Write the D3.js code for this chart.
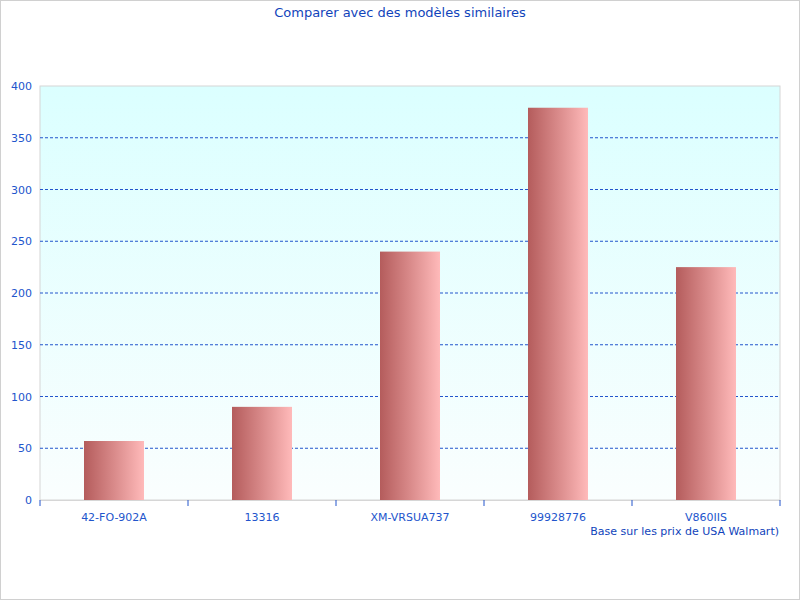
<!DOCTYPE html>
<html><head><meta charset="utf-8">
<script src="https://cdn.jsdelivr.net/npm/d3@7"></script>
<style>body{margin:0;background:#fff}svg{display:block;font-family:"DejaVu Sans",sans-serif}</style>
</head><body>
<script>
const categories = ["42-FO-902A","13316","XM-VRSUA737","99928776","V860IIS"];
const values = [57, 90, 240, 379, 225];
const yTicks = [0,50,100,150,200,250,300,350,400];

const W=800,H=600, m={l:40,r:20,t:86,b:100};
const svg=d3.select("body").append("svg").attr("width",W).attr("height",H);
const defs=svg.append("defs");
const bg=defs.append("linearGradient").attr("id","bg").attr("x1",0).attr("x2",0).attr("y1",0).attr("y2",1);
bg.append("stop").attr("offset",0).attr("stop-color","#dbffff");
bg.append("stop").attr("offset",1).attr("stop-color","#fafefe");
const bar=defs.append("linearGradient").attr("id","bar").attr("x1",0).attr("x2",1).attr("y1",0).attr("y2",0);
bar.append("stop").attr("offset",0).attr("stop-color","#b45c5c");
bar.append("stop").attr("offset",0.5).attr("stop-color","#d98a8a");
bar.append("stop").attr("offset",1).attr("stop-color","#ffbaba");

svg.append("rect").attr("x",0.5).attr("y",0.5).attr("width",W-1).attr("height",H-1).attr("fill","#fff").attr("stroke","#d0d0d0");
const x=d3.scaleBand().domain(categories).range([m.l,W-m.r]);
const y=d3.scaleLinear().domain([0,400]).range([H-m.b,m.t]);
svg.append("rect").attr("x",m.l).attr("y",m.t).attr("width",W-m.l-m.r).attr("height",H-m.t-m.b).attr("fill","url(#bg)").attr("stroke","#d6d6d6");

svg.append("g").selectAll("line").data(yTicks.filter(d=>d>0&&d<400)).join("line")
 .attr("x1",m.l).attr("x2",W-m.r).attr("y1",d=>y(d)).attr("y2",d=>y(d))
 .attr("stroke","#2255cc").attr("stroke-dasharray","3,2");

const bw=60;
svg.append("g").selectAll("rect").data(values).join("rect")
 .attr("x",(d,i)=>x(categories[i])+x.bandwidth()/2-bw/2).attr("width",bw)
 .attr("y",d=>y(d)).attr("height",d=>y(0)-y(d)).attr("fill","url(#bar)");

const ya=svg.append("g").attr("transform",`translate(${m.l},0)`).call(d3.axisLeft(y).tickValues(yTicks).tickSize(0).tickPadding(8));
ya.select(".domain").remove();
ya.selectAll("text").attr("fill","#2255cc").style("font-size","11px").style("font-family","DejaVu Sans");

const xa=svg.append("g").attr("transform",`translate(0,${H-m.b})`).call(d3.axisBottom(x).tickSize(0).tickPadding(13));
xa.select(".domain").attr("stroke","#d6d6d6");
xa.selectAll("text").attr("fill","#2255cc").style("font-size","11px").style("font-family","DejaVu Sans");
svg.append("g").selectAll("line").data(d3.range(categories.length+1)).join("line")
 .attr("x1",i=>m.l+i*x.step()).attr("x2",i=>m.l+i*x.step()).attr("y1",H-m.b).attr("y2",H-m.b+6)
 .attr("stroke","#2255cc");

svg.append("text").attr("x",W/2).attr("y",17).attr("text-anchor","middle").attr("fill","#1144bb").style("font-size","13px").text("Comparer avec des modèles similaires");
svg.append("text").attr("x",W-21).attr("y",535).attr("text-anchor","end").attr("fill","#1144bb").style("font-size","11px").text("Base sur les prix de USA Walmart)");
</script></body></html>
